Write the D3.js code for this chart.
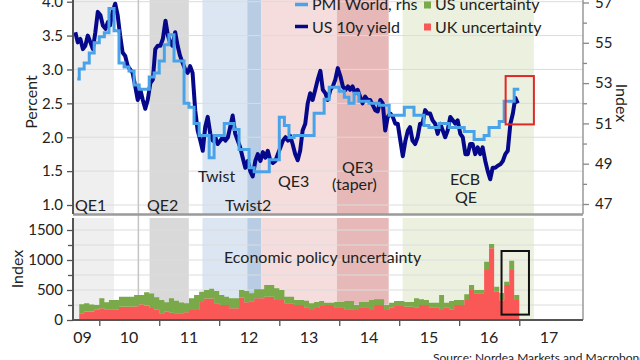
<!DOCTYPE html>
<html><head><meta charset="utf-8">
<script src="https://cdn.jsdelivr.net/npm/d3@7"></script>
<style>body{margin:0;background:#fff}svg{display:block;font-family:Lato,"Open Sans",sans-serif}</style>
</head><body><svg id="c" width="640" height="360"></svg>
<script>
// ---------------- DATA ----------------
const yieldStart = "2009-08";   // semi-monthly observations (8th and 23rd)
const usYield = [
 3.55,3.40,3.45,3.30,3.35,3.50,3.40,3.30,3.55,3.85,
 3.80,3.65,3.60,3.70,3.65,3.85,3.97,3.80,3.50,3.25,3.20,3.05,3.00,2.95,2.75,2.55,2.70,2.55,2.42,2.55,2.80,2.85,3.30,3.35,
 3.35,3.45,3.72,3.50,3.40,3.35,3.55,3.35,3.20,3.10,3.00,2.95,3.05,2.95,2.40,2.10,1.95,1.80,2.15,2.30,2.05,1.95,2.00,1.90,
 1.95,2.00,1.95,2.00,2.15,2.32,2.05,1.95,1.85,1.70,1.55,1.65,1.50,1.42,1.65,1.75,1.65,1.78,1.70,1.80,1.65,1.62,1.65,1.75,
 1.85,1.95,2.00,1.95,2.02,1.90,1.75,1.66,1.80,2.10,2.20,2.50,2.65,2.55,2.70,2.85,2.98,2.70,2.65,2.55,2.70,2.75,2.85,3.02,
 2.90,2.75,2.70,2.75,2.70,2.75,2.65,2.70,2.60,2.50,2.60,2.55,2.55,2.48,2.40,2.38,2.55,2.50,2.10,2.30,2.35,2.30,2.20,2.20,
 1.95,1.72,1.95,2.10,2.15,1.95,1.90,2.00,2.20,2.20,2.40,2.35,2.35,2.25,2.20,2.05,2.20,2.10,2.00,2.10,2.30,2.25,2.20,2.25,
 2.05,2.00,1.75,1.75,1.90,1.90,1.75,1.85,1.75,1.85,1.65,1.50,1.38,1.55,1.55,1.58,1.60,1.65,1.75,1.80,2.20,2.35,2.58,2.50
];
const pmiStart = "2009-08";     // monthly
const pmiWorld = [
 53.2,53.7,54.0,54.5,55.0,
 55.3,55.5,56.7,55.6,54.0,53.8,53.6,52.9,52.7,52.7,53.3,53.5,
 54.1,54.9,55.4,54.1,54.1,52.0,51.8,51.0,50.4,50.4,49.3,50.4,
 50.4,51.0,51.0,50.7,49.7,49.7,48.8,48.6,48.6,48.6,49.2,49.2,
 51.3,50.9,50.3,50.4,50.4,50.4,50.4,51.5,51.5,52.2,52.8,52.8,
 52.6,52.3,52.0,52.5,52.1,52.1,52.0,52.0,51.9,51.9,51.4,51.4,
 51.4,51.8,51.8,51.4,51.4,50.9,50.8,50.8,51.0,51.0,50.8,50.8,
 50.8,50.6,50.6,50.2,50.2,50.4,50.8,50.8,51.1,52.1,52.1,52.7
];
const uncStart = "2009-09";     // monthly
const ukUncertainty = [
 112,140,140,170,195,180,180,180,222,222,222,230,262,240,200,170,112,140,120,112,
 112,130,167,167,300,360,360,280,250,250,195,195,373,295,305,361,361,389,389,333,
 333,278,278,250,250,211,167,200,235,250,250,211,211,180,180,167,211,211,167,250,
 250,167,211,233,233,222,222,211,250,250,211,211,167,211,180,250,250,333,500,444,
 444,833,1194,472,330,583,833,333
];
const usUncertainty = [
 150,138,120,80,167,115,153,153,166,166,166,187,155,222,240,210,221,155,242,208,
 178,148,195,250,172,140,162,204,167,139,167,167,127,189,139,150,150,194,194,195,
 167,111,111,83,83,109,111,100,82,39,39,89,89,137,137,83,89,89,166,94,
 94,83,78,84,84,78,78,150,94,83,78,78,250,78,137,83,83,95,83,56,
 56,139,73,84,120,56,156,84
];
const bandNames  = ["QE1","QE2","Twist","Twist2","QE3","QE3 (taper)","ECB QE"];
const bandStarts = ["2008-11-25","2010-11-03","2011-09-21","2012-06-20","2012-09-13","2013-12-18","2015-01-22"];
const bandEnds   = ["2010-03-31","2011-06-30","2012-06-20","2012-09-13","2013-12-18","2014-10-29","2017-03-31"];
const yieldTicks = [1.0,1.5,2.0,2.5,3.0,3.5,4.0];
const pmiTicks   = [47,49,51,53,55,57];
const uncTicks   = [0,500,1000,1500];
const yearLabels = ["09","10","11","12","13","14","15","16","17"];
const legendLabels = ["PMI World, rhs","US 10y yield","US uncertainty","UK uncertainty"];

// ---------------- SETUP ----------------
const svg = d3.select("#c");
const parse = d3.timeParse("%Y-%m-%d");
const pm = d3.timeParse("%Y-%m");
const x = d3.scaleTime().domain([new Date(2009,6,25), new Date(2018,0,24)]).range([73,583]);
const yL = d3.scaleLinear().domain([1,4]).range([205,1.7]);
const yR = d3.scaleLinear().domain([47,57]).range([204,2.5]);
const yB = d3.scaleLinear().domain([0,1500]).range([320,230]);
const topT = -2, topB = 214, botT = 218, botB = 320, L = 73, R = 583;
const bandFill = ["#efefef","#d9d9d9","#dce6f2","#b8cce4","#f4dddc","#e6b9b8","#ebf1de"];
const C = {pmi:"#4aa3e8", yld:"#06088c", us:"#79a949", uk:"#fa5757", text:"#222"};

const defs = svg.append("defs");
defs.append("clipPath").attr("id","ct").append("rect").attr("x",L).attr("y",topT).attr("width",R-L).attr("height",topB-topT);
defs.append("clipPath").attr("id","cb").append("rect").attr("x",L).attr("y",botT).attr("width",R-L).attr("height",botB-botT);

// bands
[[topT,topB,"ct"],[botT,botB,"cb"]].forEach(([t,b,cp])=>{
  svg.append("g").attr("clip-path",`url(#${cp})`).selectAll("rect").data(bandNames).join("rect")
    .attr("x",(d,i)=>x(parse(bandStarts[i]))).attr("width",(d,i)=>x(parse(bandEnds[i]))-x(parse(bandStarts[i])))
    .attr("y",t).attr("height",b-t).attr("fill",(d,i)=>bandFill[i]);
});

// grids
svg.append("g").selectAll("line").data(yieldTicks).join("line")
  .attr("x1",L).attr("x2",R).attr("y1",d=>yL(d)).attr("y2",d=>yL(d)).attr("stroke","#dcdcdc").attr("stroke-width",1);
svg.append("g").selectAll("line").data(d3.range(250,1501,250)).join("line")
  .attr("x1",L).attr("x2",R).attr("y1",d=>yB(d)).attr("y2",d=>yB(d)).attr("stroke","#dcdcdc").attr("stroke-width",1);
// Jackson Hole vertical marker
svg.append("line").attr("x1",x(parse("2010-08-27"))).attr("x2",x(parse("2010-08-27")))
  .attr("y1",topT).attr("y2",botB).attr("stroke","#c4c4c4").attr("stroke-width",1.5);

// ---------------- BOTTOM: stacked uncertainty ----------------
const uncDates = ukUncertainty.map((d,i)=>d3.timeMonth.offset(pm(uncStart),i));
const stackRows = ukUncertainty.map((d,i)=>({date:uncDates[i],uk:d,us:usUncertainty[i]}));
stackRows.push({date:d3.timeMonth.offset(pm(uncStart),ukUncertainty.length),uk:ukUncertainty.at(-1),us:usUncertainty.at(-1)});
const stacked = d3.stack().keys(["uk","us"])(stackRows);
const areaB = d3.area().curve(d3.curveStepAfter).x(d=>x(d.data.date)).y0(d=>yB(d[0])).y1(d=>yB(d[1]));
svg.append("g").attr("clip-path","url(#cb)").selectAll("path").data(stacked).join("path")
  .attr("d",areaB).attr("fill",d=>d.key==="uk"?C.uk:C.us);

// ---------------- TOP: lines ----------------
const yDates = usYield.map((d,i)=>{const m=d3.timeMonth.offset(pm(yieldStart),Math.floor(i/2));return new Date(m.getFullYear(),m.getMonth(),i%2?23:8);});
const gTop = svg.append("g").attr("clip-path","url(#ct)");
gTop.append("path").datum(usYield).attr("fill","none").attr("stroke",C.yld).attr("stroke-width",4).attr("stroke-linejoin","round")
  .attr("d",d3.line().x((d,i)=>x(yDates[i])).y(d=>yL(d)));
const pRows = pmiWorld.map((d,i)=>({date:d3.timeMonth.offset(pm(pmiStart),i),v:d}));
pRows.push({date:d3.timeMonth.offset(pm(pmiStart),pmiWorld.length),v:pmiWorld.at(-1)});
pRows[0].date = new Date(2009,7,20);
gTop.append("path").datum(pRows).attr("fill","none").attr("stroke",C.pmi).attr("stroke-width",3)
  .attr("d",d3.line().curve(d3.curveStepAfter).x(d=>x(d.date)).y(d=>yR(d.v)));

// ---------------- AXES ----------------
svg.append("line").attr("x1",L).attr("x2",R).attr("y1",topB+0.5).attr("y2",topB+0.5).attr("stroke","#9a9a9a").attr("stroke-width",2.5);
const gl = svg.append("g").attr("transform",`translate(${L},0)`)
  .call(d3.axisLeft(yL).tickValues(yieldTicks).tickFormat(d3.format(".1f")).tickSize(6).tickPadding(4));
gl.select(".domain").attr("d",`M0,${topT}V${topB}`);
const gr = svg.append("g").attr("transform",`translate(${R},0)`)
  .call(d3.axisRight(yR).tickValues(pmiTicks).tickSize(6).tickPadding(6));
gr.select(".domain").attr("d",`M0,${topT}V${topB}`);
const gr2 = svg.append("g").attr("transform",`translate(${R},0)`)
  .call(d3.axisRight(yR).tickValues([48,50,52,54,56]).tickSize(4).tickFormat(""));
gr2.select(".domain").remove();
const gb = svg.append("g").attr("transform",`translate(${L},0)`)
  .call(d3.axisLeft(yB).tickValues(uncTicks).tickFormat(d3.format("d")).tickSize(6).tickPadding(4));
gb.select(".domain").attr("d",`M0,${botT}V${botB}`);
svg.append("g").attr("transform",`translate(${L},0)`)
  .call(d3.axisLeft(yB).tickValues([250,750,1250]).tickSize(5).tickFormat("")).select(".domain").remove();
svg.append("line").attr("x1",R).attr("x2",R).attr("y1",botT).attr("y2",botB).attr("stroke","#9a9a9a").attr("stroke-width",1.5);
const gx = svg.append("g").attr("transform",`translate(0,${botB})`)
  .call(d3.axisBottom(x).tickValues(d3.range(2010,2018).map(y=>new Date(y,0,1))).tickSize(6).tickFormat(""));
gx.select(".domain").attr("d",`M${L},0H${R}`);
svg.append("g").selectAll("text").data(yearLabels).join("text")
  .attr("x",(d,i)=>Math.max(x(new Date(2009+i,6,1)), L+9.5)).attr("y",343).attr("text-anchor","middle")
  .attr("font-size",16).attr("fill",C.text).text(d=>d);

svg.selectAll(".tick text").attr("font-size",15).attr("fill",C.text).attr("font-family","Lato,sans-serif");
svg.selectAll(".domain").attr("stroke","#555").attr("stroke-width",2);
svg.selectAll(".tick line").attr("stroke","#555").attr("stroke-width",1.3);
gr.select(".domain").attr("stroke","#999").attr("stroke-width",1.5);
gr.selectAll(".tick line").attr("stroke","#888");
gr2.selectAll(".tick line").attr("stroke","#888");

// axis titles
svg.append("text").attr("transform","translate(37,102) rotate(-90)").attr("text-anchor","middle").attr("font-size",16).attr("fill",C.text).text("Percent");
svg.append("text").attr("transform","translate(616,103) rotate(90)").attr("text-anchor","middle").attr("font-size",16).attr("fill",C.text).text("Index");
svg.append("text").attr("transform","translate(23,269) rotate(-90)").attr("text-anchor","middle").attr("font-size",16).attr("fill",C.text).text("Index");

// band labels
const lab = [["QE1",75,211],["QE2",147,211],["Twist",198,182],["Twist2",225,211],["QE3",278,187],["QE3",342,173],["(taper)",332,190],["ECB",450,185],["QE",455,203]];
svg.append("g").selectAll("text").data(lab).join("text").attr("x",d=>d[1]).attr("y",d=>d[2])
  .attr("font-size",16).attr("fill",C.text).text(d=>d[0]);
svg.append("text").attr("x",224).attr("y",263).attr("font-size",16).attr("fill",C.text).text("Economic policy uncertainty");

// legend
const lg = svg.append("g");
[[C.pmi,4.5],[C.yld,26.5]].forEach(([c,y])=>lg.append("line").attr("x1",295).attr("x2",308).attr("y1",y).attr("y2",y).attr("stroke",c).attr("stroke-width",3.5));
[[C.us,1.5],[C.uk,23.5]].forEach(([c,y])=>lg.append("rect").attr("x",424).attr("y",y).attr("width",7).attr("height",7).attr("fill",c));
[[312,10],[312,33],[435,10],[435,33]].forEach((p,i)=>lg.append("text").attr("x",p[0]).attr("y",p[1]).attr("font-size",16).attr("fill",C.text).text(legendLabels[i]));

// annotation boxes
svg.append("rect").attr("x",x(new Date(2016,9,10))).attr("y",yR(53.35)).attr("width",x(new Date(2017,2,31))-x(new Date(2016,9,10))).attr("height",yR(50.95)-yR(53.35))
  .attr("fill","none").attr("stroke","#e02828").attr("stroke-width",2);
svg.append("rect").attr("x",x(new Date(2016,8,15))).attr("y",yB(1150)).attr("width",x(new Date(2017,2,1))-x(new Date(2016,8,15))).attr("height",yB(90)-yB(1150))
  .attr("fill","none").attr("stroke","#111").attr("stroke-width",2);

// source
svg.append("text").attr("x",433).attr("y",362).attr("font-size",12).attr("fill",C.text).text("Source: Nordea Markets and Macrobond");
</script></body></html>
